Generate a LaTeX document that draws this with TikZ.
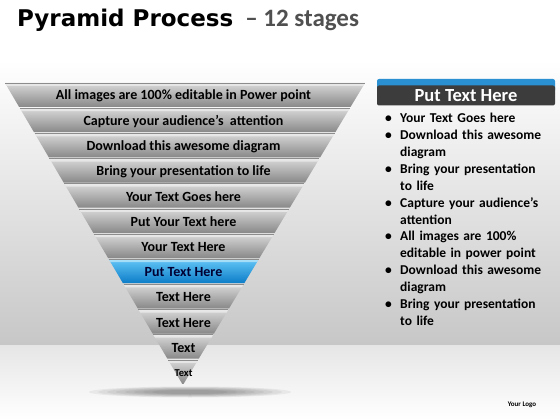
\documentclass[tikz,border=0pt]{standalone}
\usepackage{fontspec}
\setmainfont{Carlito}
\newfontfamily\titlefont{DejaVu Sans}
\usetikzlibrary{positioning}
\definecolor{bandtop}{HTML}{D8D8D8}
\definecolor{bandmid}{HTML}{B8B8B8}
\definecolor{bandbot}{HTML}{888888}
\definecolor{bluetop}{HTML}{62C6F6}
\definecolor{bluemid}{HTML}{22A2EA}
\definecolor{bluebot}{HTML}{0C7CC8}
\definecolor{headgrey}{HTML}{3C3C3C}
\definecolor{headblue}{HTML}{2A90D2}
\definecolor{subgrey}{HTML}{505050}
\tikzset{
 greyband/.style={top color=bandtop,middle color=bandmid,bottom color=bandbot},
 blueband/.style={top color=bluetop,middle color=bluemid,bottom color=bluebot},
 bandtext/.style={font=\bfseries\fontsize{14}{14}\selectfont,text=black,inner sep=0pt},
 headbox/.style={fill=headgrey,rounded corners=2pt,minimum width=178pt,minimum height=20pt,
  text=white,font=\bfseries\fontsize{18.5}{18.5}\selectfont,inner sep=0pt},
 bulletlist/.style={text width=170pt,inner sep=0pt,
  font=\bfseries\fontsize{13.5}{16.9}\selectfont},
}
\newcommand{\band}[4]{%
 \pgfmathsetmacro{\yt}{83+(#2-1)*25.17}%
 \pgfmathsetmacro{\yb}{\yt+24}%
 \pgfmathsetmacro{\yf}{\yt+3}%
 \pgfmathsetmacro{\ym}{\yt+13}%
 \shade[#3] ({5+0.589*(\yt-83)},\yt) -- ({365-0.603*(\yt-83)},\yt) -- ({365-0.603*(\yb-83)},\yb) -- ({5+0.589*(\yb-83)},\yb) -- cycle;%
 \fill[white,opacity=.45] ({5+0.589*(\yt-83)},\yt) -- ({365-0.603*(\yt-83)},\yt) -- ({365-0.603*(\yf-83)},\yf) -- ({5+0.589*(\yf-83)},\yf) -- cycle;%
 \draw[black!45,line width=.6pt] ({5+0.589*(\yt-83)},\yt) -- ({365-0.603*(\yt-83)},\yt);%
 \node[bandtext] (#1) at (183.5,\ym) {#4};%
}
\newcommand{\pitem}[1]{\raggedright\hangindent=15pt\hangafter=1\noindent\makebox[15pt][l]{\textbullet}#1\par}

\begin{document}
\begin{tikzpicture}[x=1pt,y=-1pt]
 \useasboundingbox (0,0) rectangle (560,420);
 % wall and floor
 \fill[white] (0,0) rectangle (560,420);
 \shade[top color=white,bottom color=black!22] (0,60) rectangle (560,345);
 \shade[top color=black!10,bottom color=white] (0,345) rectangle (560,420);
 \foreach \r in {1,...,8}
  \fill[black,opacity=.05] (190,392) ellipse ({110-9*\r} and {6-0.5*\r});
 % title
 \node[anchor=base west,inner sep=0pt] (title) at (17,27)
  {{\titlefont\bfseries\fontsize{23}{23}\selectfont Pyramid Process}\hspace{12pt}{\color{subgrey}\bfseries\fontsize{25}{25}\selectfont – 12 stages}};
 % pyramid
 \band{s1}{1}{greyband}{All images are 100\% editable in Power point};
 \band{s2}{2}{greyband}{Capture your audience’s\ \ attention};
 \band{s3}{3}{greyband}{Download this awesome diagram};
 \band{s4}{4}{greyband}{Bring your presentation to life};
 \band{s5}{5}{greyband}{Your Text Goes here};
 \band{s6}{6}{greyband}{Put Your Text here};
 \band{s7}{7}{greyband}{Your Text Here};
 \band{s8}{8}{blueband}{\color{blue!20!black}Put Text Here};
 \band{s9}{9}{greyband}{Text Here};
 \band{s10}{10}{greyband}{Text Here};
 \band{s11}{11}{greyband}{Text};
 \band{s12}{12}{greyband}{\fontsize{10.5}{10.5}\selectfont Text};
 % side panel
 \fill[headblue,rounded corners=2pt] (377,79) rectangle (555,92);
 \node[headbox] (head) at (466,95.5) {Put Text Here};
 \node[bulletlist,anchor=north west] (list) at (385,113) {%
  \pitem{Your Text Goes here}
  \pitem{Download this awesome\newline diagram}
  \pitem{Bring your presentation\newline to life}
  \pitem{Capture your audience’s\newline attention}
  \pitem{All images are 100\%\newline editable in power point}
  \pitem{Download this awesome\newline diagram}
  \pitem{Bring your presentation\newline to life}};
 \node[font=\bfseries\fontsize{7}{7}\selectfont,inner sep=0pt] (logo) at (522,405) {Your Logo};
\end{tikzpicture}
\end{document}
